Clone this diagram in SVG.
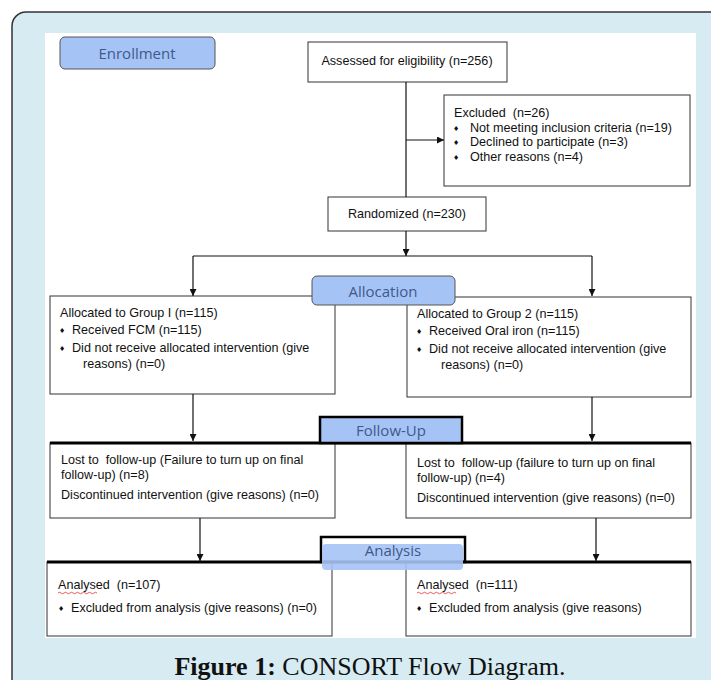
<svg xmlns="http://www.w3.org/2000/svg" width="711" height="680" viewBox="0 0 711 680">
<style>
.box{fill:#fff;stroke:#333;stroke-width:1}
.t{font-family:"Liberation Sans",Arial,sans-serif;font-size:12.6px;fill:#111;white-space:pre}
.b{font-family:"DejaVu Sans",sans-serif;font-size:7px;fill:#111}
.hd{font-family:"Open Sans",sans-serif;font-size:15px;fill:#3d5a8c;text-anchor:middle}
.hfill{fill:#a6c3f5}
.ln{stroke:#111;stroke-width:1.2;fill:none}
.thick{stroke:#000;stroke-width:3}
</style>
<defs>
<marker id="ah" viewBox="0 0 10 10" refX="10" refY="5" markerWidth="7" markerHeight="7" orient="auto" markerUnits="userSpaceOnUse">
<path d="M0,0 L10,5 L0,10 z" fill="#111"/>
</marker>
</defs>
<rect x="12" y="12" width="740" height="720" rx="14" fill="#d7ecf2" stroke="#333" stroke-width="1.5"/>
<rect x="45" y="33" width="651" height="605" fill="#fff"/>

<g id="enrollment">
<rect x="60" y="37" width="155" height="32" rx="5" class="hfill" stroke="#555" stroke-width="1"/>
<text x="137" y="59" class="hd">Enrollment</text>
</g>

<g id="assessed">
<rect class="box" x="308" y="42" width="199" height="40"/>
<text class="t" x="407" y="65" text-anchor="middle">Assessed for eligibility (n=256)</text>
</g>

<g id="excluded">
<rect class="box" x="444" y="95" width="246" height="91"/>
<text class="t" x="454" y="117" xml:space="preserve">Excluded  (n=26)</text>
<text class="b" x="453" y="131">♦</text><text class="t" x="470" y="132">Not meeting inclusion criteria (n=19)</text>
<text class="b" x="453" y="145">♦</text><text class="t" x="470" y="146">Declined to participate (n=3)</text>
<text class="b" x="453" y="160">♦</text><text class="t" x="470" y="161">Other reasons (n=4)</text>
</g>

<g id="randomized">
<rect class="box" x="328" y="197" width="158" height="34"/>
<text class="t" x="407" y="218" text-anchor="middle">Randomized (n=230)</text>
</g>

<g id="group1">
<rect class="box" x="50" y="296" width="285" height="98"/>
<text class="t" x="60" y="317">Allocated to Group I (n=115)</text>
<text class="b" x="59" y="333">♦</text><text class="t" x="72" y="334">Received FCM (n=115)</text>
<text class="b" x="59" y="351">♦</text><text class="t" x="72" y="352">Did not receive allocated intervention (give</text>
<text class="t" x="83" y="368">reasons) (n=0)</text>
</g>

<g id="group2">
<rect class="box" x="407" y="297" width="284" height="100"/>
<text class="t" x="417" y="318">Allocated to Group 2 (n=115)</text>
<text class="b" x="416" y="334">♦</text><text class="t" x="429" y="335">Received Oral iron (n=115)</text>
<text class="b" x="416" y="352">♦</text><text class="t" x="429" y="353">Did not receive allocated intervention (give</text>
<text class="t" x="441" y="369">reasons) (n=0)</text>
</g>

<g id="allocation">
<rect x="312" y="276" width="143" height="29" rx="5" class="hfill" stroke="#555" stroke-width="1"/>
<text x="383" y="297" class="hd">Allocation</text>
</g>

<g id="followup1">
<rect class="box" x="50" y="443" width="285" height="75"/>
<text class="t" x="61" y="464" xml:space="preserve">Lost to  follow-up (Failure to turn up on final</text>
<text class="t" x="61" y="479">follow-up) (n=8)</text>
<text class="t" x="61" y="499">Discontinued intervention (give reasons) (n=0)</text>
</g>

<g id="followup2">
<rect class="box" x="406" y="443" width="285" height="75"/>
<text class="t" x="417" y="467" xml:space="preserve">Lost to  follow-up (failure to turn up on final</text>
<text class="t" x="417" y="482">follow-up) (n=4)</text>
<text class="t" x="417" y="502">Discontinued intervention (give reasons) (n=0)</text>
</g>

<g id="followup-header">
<line class="thick" x1="50" y1="443" x2="691" y2="443"/>
<rect x="320" y="417" width="142" height="26" class="hfill" stroke="#000" stroke-width="2.5"/>
<text x="391" y="436" class="hd">Follow-Up</text>
</g>

<g id="analysis1">
<rect class="box" x="47" y="562" width="285" height="74"/>
<text class="t" x="58" y="589" xml:space="preserve">Analysed  (n=107)</text>
<path d="M58,593 q1.5,-1.5 3,0 t3,0 t3,0 t3,0 t3,0 t3,0 t3,0 t3,0 t3,0 t3,0 t3,0 t3,0 t3,0" stroke="#d33" stroke-width="0.8" fill="none"/>
<text class="b" x="58" y="611">♦</text><text class="t" x="71" y="612">Excluded from analysis (give reasons) (n=0)</text>
</g>

<g id="analysis2">
<rect class="box" x="406" y="562" width="285" height="74"/>
<text class="t" x="417" y="589" xml:space="preserve">Analysed  (n=111)</text>
<path d="M417,593 q1.5,-1.5 3,0 t3,0 t3,0 t3,0 t3,0 t3,0 t3,0 t3,0 t3,0 t3,0 t3,0 t3,0 t3,0" stroke="#d33" stroke-width="0.8" fill="none"/>
<text class="b" x="416" y="611">♦</text><text class="t" x="429" y="612">Excluded from analysis (give reasons)</text>
</g>

<g id="analysis-header">
<line class="thick" x1="47" y1="562" x2="691" y2="562"/>
<rect x="321" y="537" width="144" height="25" fill="none" stroke="#000" stroke-width="2.5"/>
<rect x="322" y="544" width="141" height="26" rx="4" fill="#a6c3f5" opacity="0.9"/>
<text x="393" y="556" class="hd">Analysis</text>
</g>

<g id="connectors">
<path class="ln" d="M406,82 V197"/>
<path class="ln" d="M406,140 H444" marker-end="url(#ah)"/>
<path class="ln" d="M406,231 V256" marker-end="url(#ah)"/>
<path class="ln" d="M193,256 H592"/>
<path class="ln" d="M193,256 V296" marker-end="url(#ah)"/>
<path class="ln" d="M592,256 V296" marker-end="url(#ah)"/>
<path class="ln" d="M193,394 V441" marker-end="url(#ah)"/>
<path class="ln" d="M592,397 V441" marker-end="url(#ah)"/>
<path class="ln" d="M200,518 V561" marker-end="url(#ah)"/>
<path class="ln" d="M596,518 V561" marker-end="url(#ah)"/>
</g>

<text x="370" y="675" text-anchor="middle" font-family="Liberation Serif,serif" font-size="26" fill="#111"><tspan font-weight="bold">Figure 1:</tspan> CONSORT Flow Diagram.</text>
</svg>
